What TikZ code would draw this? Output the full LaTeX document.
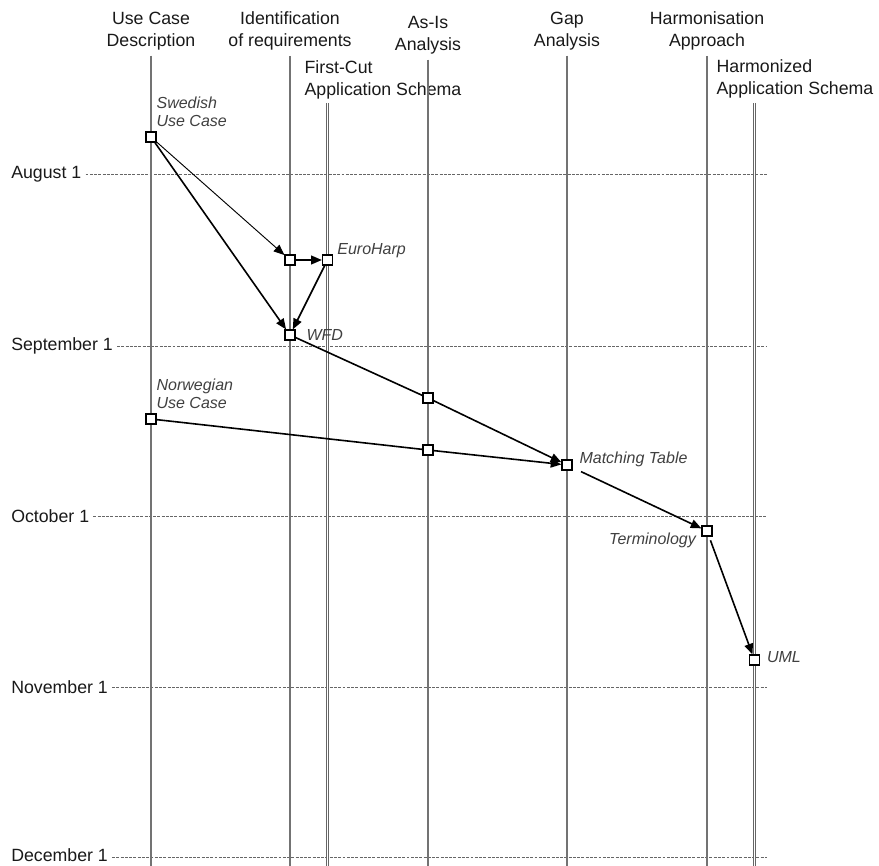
\documentclass[tikz,border=0pt]{standalone}
\usepackage{fontspec}
\setmainfont{Liberation Sans}
\usetikzlibrary{arrows.meta,positioning}

\begin{document}
\begin{tikzpicture}[
  x=0.75pt, y=-0.75pt,
  every node/.style={font=\fontsize{13.3}{16.5}\selectfont, text=black!90},
  phase/.style={align=center, inner sep=1pt},
  month/.style={anchor=west, inner sep=3pt},
  timeline/.style={draw=black!55, line width=0.8pt},
  schema/.style={draw=black!60, line width=0.55pt, double=white, double distance=1.4pt},
  dateline/.style={draw=black!60, line width=0.6pt, dash pattern=on 2.2pt off 1pt},
  item/.style={draw=black, fill=white, rectangle, minimum size=7.5pt, inner sep=0pt, line width=0.9pt},
  itemlabel/.style={font=\fontsize{12}{13.8}\selectfont\itshape, text=black!75, align=left, inner sep=1pt},
  flow/.style={-{Triangle[length=8pt,width=6.5pt]}, line width=1.2pt}]
\useasboundingbox (0,0) rectangle (879,866);
\coordinate (bottom) at (0,866);
\coordinate (dateend) at (767,0);

% phases
\node[phase] (ucd) at (151,31) {Use Case\\Description};
\node[phase] (idr) at (290,31) {Identification\\of requirements};
\node[phase, align=left, anchor=west] (fca) at (303,80) {First-Cut\\Application Schema};
\node[phase] (asis) at (428,35) {As-Is\\Analysis};
\node[phase] (gap) at (567,31) {Gap\\Analysis};
\node[phase] (hap) at (707,31) {Harmonisation\\Approach};
\node[phase, align=left, anchor=west] (has) at (715,79) {Harmonized\\Application Schema};
\coordinate (fctop) at (327.5,103);
\coordinate (hstop) at (754.5,103);

% months
\node[month] (aug) at (7,174) {August 1};
\node[month] (sep) at (7,346) {September 1};
\node[month] (oct) at (7,516) {October 1};
\node[month] (nov) at (7,687) {November 1};
\node[month] (dec) at (7,855) {December 1};
\draw[dateline] (aug.east) -- (aug.east -| dateend);
\draw[dateline] (sep.east) -- (sep.east -| dateend);
\draw[dateline] (oct.east) -- (oct.east -| dateend);
\draw[dateline] (nov.east) -- (nov.east -| dateend);
\draw[dateline] ([yshift=-2pt]dec.east) -- ([yshift=-2pt]dec.east -| dateend);

% time lines
\draw[timeline, shorten <=3pt] (ucd.south) -- (ucd.south |- bottom);
\draw[timeline, shorten <=3pt] (idr.south) -- (idr.south |- bottom);
\draw[timeline, shorten <=3pt] (asis.south) -- (asis.south |- bottom);
\draw[timeline, shorten <=3pt] (gap.south) -- (gap.south |- bottom);
\draw[timeline, shorten <=3pt] (hap.south) -- (hap.south |- bottom);
\draw[schema] (fctop) -- (fctop |- bottom);
\draw[schema] (hstop) -- (hstop |- bottom);

% deliverables
\node[item] (swe) at (151,137) {};
\node[item] (req) at (290,260) {};
\node[item] (euh) at (327.5,260) {};
\node[item] (wfd) at (290,335) {};
\node[item] (as1) at (428,398) {};
\node[item] (nor) at (151,419) {};
\node[item] (as2) at (428,450) {};
\node[item] (mat) at (567,465) {};
\node[item] (ter) at (707,531) {};
\node[item] (uml) at (754.5,660) {};

\node[itemlabel, anchor=south west] (swelbl) at ([xshift=3pt, yshift=2pt]swe.north) {Swedish\\Use Case};
\node[itemlabel, anchor=south west] (norlbl) at ([xshift=3pt, yshift=2pt]nor.north) {Norwegian\\Use Case};
\node[itemlabel, right=2pt of euh, yshift=7pt] (euhlbl) {EuroHarp};
\node[itemlabel, right=7pt of wfd] (wfdlbl) {WFD};
\node[itemlabel, right=4pt of mat, yshift=4pt] (matlbl) {Matching Table};
\node[itemlabel, left=3pt of ter, yshift=-7pt] (terlbl) {Terminology};
\node[itemlabel, right=4pt of uml, yshift=2pt] (umllbl) {UML};

% dependencies
\draw[flow, line width=0.7pt] (swe) -- (req);
\draw[flow] (swe) -- (wfd);
\draw[flow] (req) -- (euh);
\draw[flow] (euh) -- (wfd);
\draw[line width=1.2pt] (wfd) -- (as1);
\draw[flow] (as1) -- (mat);
\draw[line width=1.2pt] (nor) -- (as2);
\draw[flow] (as2) -- (mat);
\draw[flow, shorten <=7pt] (mat) -- (ter);
\draw[flow, shorten <=3pt] (ter) -- (uml);
\end{tikzpicture}
\end{document}
